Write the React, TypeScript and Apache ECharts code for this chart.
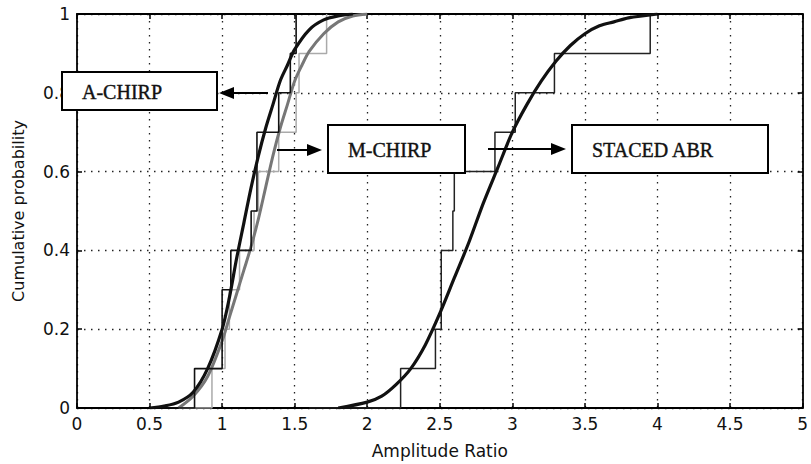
import React, { useEffect, useRef } from "react";
import * as echarts from "echarts";

// Empirical CDF steps (sample value, cumulative probability)
const aChirpStepX = [0.5, 0.81, 1.0, 1.06, 1.2, 1.24, 1.39, 1.47, 1.51];
const aChirpStepY = [0, 0.1, 0.3, 0.4, 0.5, 0.7, 0.8, 0.9, 1.0];

const mChirpStepX = [0.7, 0.93, 1.02, 1.05, 1.12, 1.22, 1.25, 1.39, 1.51, 1.53, 1.72];
const mChirpStepY = [0, 0.1, 0.2, 0.3, 0.4, 0.5, 0.6, 0.7, 0.8, 0.9, 1.0];

const stacedStepX = [1.6, 2.23, 2.47, 2.51, 2.59, 2.6, 2.88, 3.02, 3.29, 3.95];
const stacedStepY = [0, 0.1, 0.2, 0.4, 0.5, 0.6, 0.7, 0.8, 0.9, 1.0];

// Fitted CDF curves
const aChirpCurveX = [0.5, 0.6, 0.7, 0.8, 0.9, 1.0, 1.05, 1.1, 1.15, 1.2, 1.25, 1.3, 1.35, 1.4, 1.45, 1.5, 1.6, 1.7, 1.8, 1.9];
const aChirpCurveY = [0, 0.005, 0.015, 0.04, 0.1, 0.2, 0.28, 0.38, 0.47, 0.56, 0.64, 0.71, 0.77, 0.83, 0.87, 0.91, 0.96, 0.985, 0.995, 1.0];

const mChirpCurveX = [0.7, 0.8, 0.9, 1.0, 1.05, 1.1, 1.15, 1.2, 1.25, 1.3, 1.35, 1.4, 1.45, 1.5, 1.55, 1.6, 1.7, 1.8, 1.9, 2.0];
const mChirpCurveY = [0, 0.03, 0.08, 0.17, 0.23, 0.29, 0.35, 0.41, 0.48, 0.56, 0.64, 0.71, 0.77, 0.83, 0.87, 0.905, 0.95, 0.98, 0.995, 1.0];

const stacedCurveX = [1.8, 2.0, 2.1, 2.2, 2.3, 2.4, 2.5, 2.6, 2.7, 2.8, 2.9, 3.0, 3.1, 3.2, 3.3, 3.4, 3.5, 3.6, 3.7, 3.8, 4.0];
const stacedCurveY = [0, 0.015, 0.03, 0.06, 0.1, 0.16, 0.24, 0.33, 0.42, 0.52, 0.61, 0.7, 0.77, 0.83, 0.88, 0.92, 0.95, 0.97, 0.98, 0.99, 1.0];

const labels = ["A-CHIRP", "M-CHIRP", "STACED ABR"];

const zip = (xs: number[], ys: number[]) => xs.map((x, i) => [x, ys[i]]);

export default function App() {
  const ref = useRef<HTMLDivElement>(null);
  useEffect(() => {
    document.body.style.margin = "0";
    const chart = echarts.init(ref.current!, null, { renderer: "svg" });
    const dotted = { show: true, lineStyle: { color: "#222", type: [1.5, 5.5], width: 1.3 } };
    const axisLine = { show: true, onZero: false, lineStyle: { color: "#000", width: 1.8 } };
    const tick = { show: true, inside: true, length: 5, lineStyle: { color: "#000", width: 1.5 } };
    const sans = '"DejaVu Sans", sans-serif';
    const tickFont = { color: "#111", fontSize: 17, fontFamily: sans };
    const serif = '"Liberation Serif", "Times New Roman", serif';

    const box = (x: number, y: number, w: number, h: number, text: string, tx: number) => ({
      type: "group",
      z: 100,
      children: [
        { type: "rect", shape: { x, y, width: w, height: h }, style: { fill: "#fff", stroke: "#000", lineWidth: 2 }, z: 100 },
        { type: "text", x: tx, y: y + h / 2 + 1, style: { text, fill: "#111", fontSize: 20, fontFamily: serif, align: "left", verticalAlign: "middle", stroke: "#111", lineWidth: 0.4 }, z: 101 },
      ],
    });
    const arrow = (x1: number, x2: number, y: number) => {
      const dir = x2 > x1 ? 1 : -1;
      const base = x2 - dir * 15;
      return {
        type: "group",
        z: 100,
        children: [
          { type: "line", shape: { x1, y1: y, x2: base, y2: y }, style: { stroke: "#000", lineWidth: 2 }, z: 100 },
          { type: "polygon", shape: { points: [[x2, y], [base, y - 6], [base, y + 6]] }, style: { fill: "#000" }, z: 100 },
        ],
      };
    };

    chart.setOption({
      animation: false,
      backgroundColor: "#fff",
      grid: { left: 77, right: 3, top: 14, bottom: 56 },
      xAxis: [
        {
          type: "value", min: 0, max: 5, interval: 0.5, position: "bottom",
          axisLine, axisTick: tick, axisLabel: { ...tickFont, margin: 7 }, splitLine: dotted,
          name: "Amplitude Ratio", nameLocation: "middle", nameGap: 34,
          nameTextStyle: { color: "#111", fontSize: 17, fontFamily: sans },
        },
        {
          type: "value", min: 0, max: 5, interval: 0.5, position: "top",
          axisLine, axisTick: tick, axisLabel: { show: false }, splitLine: { show: false },
        },
      ],
      yAxis: [
        {
          type: "value", min: 0, max: 1, interval: 0.2, position: "left",
          axisLine, axisTick: tick, axisLabel: { ...tickFont, margin: 7 }, splitLine: dotted,
          name: "Cumulative probability", nameLocation: "middle", nameGap: 51,
          nameTextStyle: { color: "#111", fontSize: 16, fontFamily: sans },
        },
        {
          type: "value", min: 0, max: 1, interval: 0.2, position: "right",
          axisLine, axisTick: tick, axisLabel: { show: false }, splitLine: { show: false },
        },
      ],
      series: [
        { name: "M-CHIRP step", type: "line", step: "end", symbol: "none", data: zip(mChirpStepX, mChirpStepY), lineStyle: { color: "#aaa", width: 1.5 } },
        { name: "M-CHIRP fit", type: "line", smooth: 0.3, symbol: "none", data: zip(mChirpCurveX, mChirpCurveY), lineStyle: { color: "#777", width: 3 } },
        { name: "STACED step", type: "line", step: "end", symbol: "none", data: zip(stacedStepX, stacedStepY), lineStyle: { color: "#222", width: 1.5 } },
        { name: "STACED fit", type: "line", smooth: 0.3, symbol: "none", data: zip(stacedCurveX, stacedCurveY), lineStyle: { color: "#111", width: 3.2 } },
        { name: "A-CHIRP step", type: "line", step: "end", symbol: "none", data: zip(aChirpStepX, aChirpStepY), lineStyle: { color: "#111", width: 1.6 } },
        { name: "A-CHIRP fit", type: "line", smooth: 0.3, symbol: "none", data: zip(aChirpCurveX, aChirpCurveY), lineStyle: { color: "#111", width: 3.2 } },
      ],
      graphic: [
        box(62, 72, 155, 38, labels[0], 82),
        arrow(268, 219, 93),
        box(328, 125, 137, 48, labels[1], 348),
        arrow(277, 322, 150),
        box(572, 125, 196, 48, labels[2], 592),
        arrow(488, 566, 149),
      ],
    });
    return () => chart.dispose();
  }, []);
  return <div ref={ref} style={{ width: 811, height: 464 }} />;
}
